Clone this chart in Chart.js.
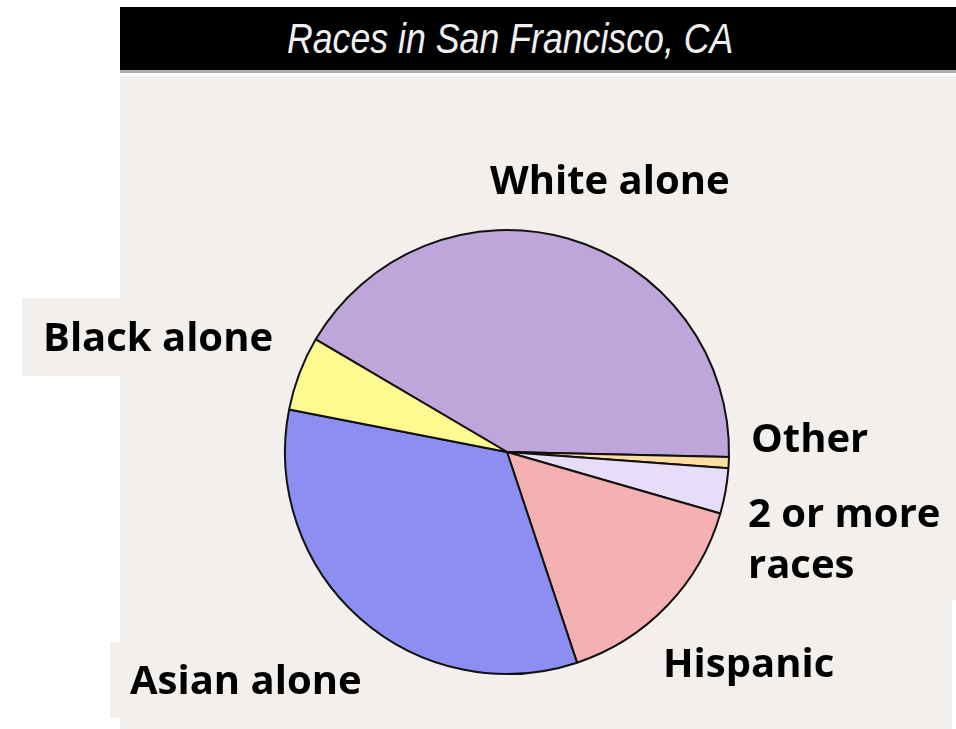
<!DOCTYPE html>
<html lang="en">
<head>
    <meta charset="UTF-8">
    <title>Races in San Francisco, CA</title>
    <script src="https://cdn.jsdelivr.net/npm/chart.js"></script>
    <style>
        body { margin: 0; background: #fff; width: 956px; height: 729px; position: relative; overflow: hidden; }
        .panel { position: absolute; background: #f2efec; }
        .titlebar { position: absolute; left: 120px; top: 7px; width: 836px; height: 63px; background: #000; border-bottom: 3px solid #b0b0b0; }
        /* narrow italic heading, squeezed horizontally */
        .titlebar span { position: absolute; left: 167px; top: 7px; color: #f0f0f0; font: italic 43px "Liberation Sans Narrow", "Liberation Sans", Arial, sans-serif; white-space: nowrap; transform: scaleX(0.83); transform-origin: left top; }
        #chart { position: absolute; left: 0; top: 0; }
        .lbl { position: absolute; font: bold 40px/40px "Open Sans", "Noto Sans", sans-serif; color: #000; white-space: nowrap; }
    </style>
</head>
<body>
    <div class="panel" style="left:120px; top:76px; width:836px; height:524px;"></div>
    <div class="panel" style="left:120px; top:600px; width:832px; height:129px;"></div>
    <div class="panel" style="left:22px; top:298px; width:253px; height:78px;"></div>
    <div class="panel" style="left:110px; top:642px; width:280px; height:76px;"></div>
    <div class="titlebar"><span>Races in San Francisco, CA</span></div>

    <canvas id="chart" width="956" height="729"></canvas>

    <div class="lbl" style="left:490px; top:159px;">White alone</div>
    <div class="lbl" style="left:43px; top:316px;">Black alone</div>
    <div class="lbl" style="left:751px; top:417px;">Other</div>
    <div class="lbl" style="left:748px; top:486px; line-height:51px;">2 or more<br>races</div>
    <div class="lbl" style="left:663px; top:642px;">Hispanic</div>
    <div class="lbl" style="left:130px; top:659px;">Asian alone</div>

    <script>
        // share of population by race, in percent
        const races = ['White alone', 'Other', '2 or more races', 'Hispanic', 'Asian alone', 'Black alone'];
        const shares = [41.8, 0.8, 3.3, 15.4, 33.1, 5.4];
        const sliceColors = ['#bea6da', '#fddea0', '#e6def8', '#f5b0b1', '#8d8ef2', '#fdfa8f'];

        const ctx = document.getElementById('chart').getContext('2d');
        new Chart(ctx, {
            type: 'pie',
            data: {
                labels: races,
                datasets: [{
                    data: shares,
                    backgroundColor: sliceColors,
                    borderColor: '#111',
                    borderWidth: 2
                }]
            },
            options: {
                responsive: false,
                animation: false,
                rotation: 300.5,
                radius: 222,
                layout: { padding: { left: 58, top: 175, right: 0, bottom: 0 } },
                plugins: {
                    legend: { display: false },
                    tooltip: { enabled: false }
                }
            }
        });
    </script>
</body>
</html>
